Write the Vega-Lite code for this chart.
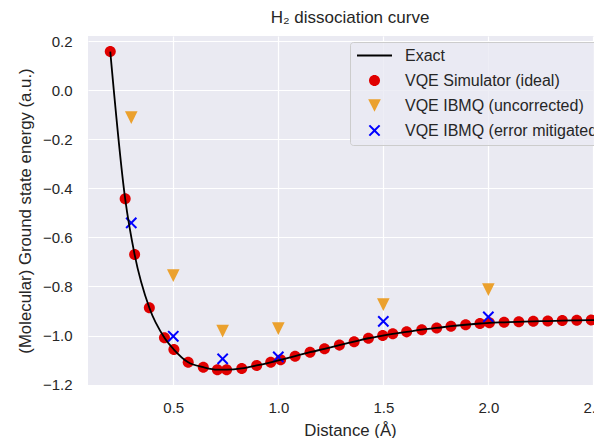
{
  "$schema": "https://vega.github.io/schema/vega-lite/v6.json",
  "width": 506,
  "height": 349,
  "autosize": {"type": "none"},
  "padding": {"left": 88, "top": 36, "right": 0, "bottom": 53},
  "background": "white",
  "title": {"text": "H₂ dissociation curve", "fontSize": 17, "fontWeight": "normal", "font": "Liberation Sans", "color": "#262626", "offset": 7, "dx": 9, "anchor": "middle"},
  "config": {
    "view": {"fill": "#EAEAF2", "stroke": null},
    "font": "Liberation Sans",
    "axis": {"domain": false, "ticks": false, "tickSize": 0, "gridColor": "#ffffff", "gridWidth": 1.2, "gridOpacity": 1, "labelFontSize": 15, "labelColor": "#262626", "labelFont": "Liberation Sans", "titleFont": "Liberation Sans", "titleFontSize": 16.8, "titleFontWeight": "normal", "titleColor": "#262626", "labelPadding": 15}
  },
  "datasets": {
    "pts": [
      {"series": "VQE Simulator (ideal)", "distance": 0.200, "energy": 0.157},
      {"series": "VQE Simulator (ideal)", "distance": 0.271, "energy": -0.443},
      {"series": "VQE Simulator (ideal)", "distance": 0.316, "energy": -0.670},
      {"series": "VQE Simulator (ideal)", "distance": 0.386, "energy": -0.887},
      {"series": "VQE Simulator (ideal)", "distance": 0.458, "energy": -1.009},
      {"series": "VQE Simulator (ideal)", "distance": 0.503, "energy": -1.057},
      {"series": "VQE Simulator (ideal)", "distance": 0.571, "energy": -1.109},
      {"series": "VQE Simulator (ideal)", "distance": 0.643, "energy": -1.129},
      {"series": "VQE Simulator (ideal)", "distance": 0.710, "energy": -1.139},
      {"series": "VQE Simulator (ideal)", "distance": 0.754, "energy": -1.139},
      {"series": "VQE Simulator (ideal)", "distance": 0.826, "energy": -1.134},
      {"series": "VQE Simulator (ideal)", "distance": 0.897, "energy": -1.122},
      {"series": "VQE Simulator (ideal)", "distance": 0.964, "energy": -1.109},
      {"series": "VQE Simulator (ideal)", "distance": 1.011, "energy": -1.099},
      {"series": "VQE Simulator (ideal)", "distance": 1.080, "energy": -1.084},
      {"series": "VQE Simulator (ideal)", "distance": 1.151, "energy": -1.068},
      {"series": "VQE Simulator (ideal)", "distance": 1.220, "energy": -1.054},
      {"series": "VQE Simulator (ideal)", "distance": 1.291, "energy": -1.039},
      {"series": "VQE Simulator (ideal)", "distance": 1.361, "energy": -1.025},
      {"series": "VQE Simulator (ideal)", "distance": 1.429, "energy": -1.011},
      {"series": "VQE Simulator (ideal)", "distance": 1.497, "energy": -1.000},
      {"series": "VQE Simulator (ideal)", "distance": 1.545, "energy": -0.993},
      {"series": "VQE Simulator (ideal)", "distance": 1.611, "energy": -0.985},
      {"series": "VQE Simulator (ideal)", "distance": 1.683, "energy": -0.976},
      {"series": "VQE Simulator (ideal)", "distance": 1.754, "energy": -0.969},
      {"series": "VQE Simulator (ideal)", "distance": 1.822, "energy": -0.962},
      {"series": "VQE Simulator (ideal)", "distance": 1.892, "energy": -0.956},
      {"series": "VQE Simulator (ideal)", "distance": 1.960, "energy": -0.951},
      {"series": "VQE Simulator (ideal)", "distance": 2.005, "energy": -0.948},
      {"series": "VQE Simulator (ideal)", "distance": 2.075, "energy": -0.946},
      {"series": "VQE Simulator (ideal)", "distance": 2.145, "energy": -0.944},
      {"series": "VQE Simulator (ideal)", "distance": 2.214, "energy": -0.942},
      {"series": "VQE Simulator (ideal)", "distance": 2.283, "energy": -0.941},
      {"series": "VQE Simulator (ideal)", "distance": 2.352, "energy": -0.939},
      {"series": "VQE Simulator (ideal)", "distance": 2.421, "energy": -0.938},
      {"series": "VQE Simulator (ideal)", "distance": 2.490, "energy": -0.937},
      {"series": "VQE Simulator (ideal)", "distance": 2.560, "energy": -0.936},
      {"series": "VQE IBMQ (uncorrected)", "distance": 0.3, "energy": -0.112},
      {"series": "VQE IBMQ (uncorrected)", "distance": 0.5, "energy": -0.756},
      {"series": "VQE IBMQ (uncorrected)", "distance": 0.735, "energy": -0.982},
      {"series": "VQE IBMQ (uncorrected)", "distance": 1.0, "energy": -0.972},
      {"series": "VQE IBMQ (uncorrected)", "distance": 1.5, "energy": -0.874},
      {"series": "VQE IBMQ (uncorrected)", "distance": 2.0, "energy": -0.813},
      {"series": "VQE IBMQ (error mitigated)", "distance": 0.3, "energy": -0.541},
      {"series": "VQE IBMQ (error mitigated)", "distance": 0.5, "energy": -1.003},
      {"series": "VQE IBMQ (error mitigated)", "distance": 0.735, "energy": -1.095},
      {"series": "VQE IBMQ (error mitigated)", "distance": 1.0, "energy": -1.087},
      {"series": "VQE IBMQ (error mitigated)", "distance": 1.5, "energy": -0.942},
      {"series": "VQE IBMQ (error mitigated)", "distance": 2.0, "energy": -0.924}
    ],
    "exact": [
      {"distance": 0.200, "energy": 0.157},
      {"distance": 0.271, "energy": -0.443},
      {"distance": 0.316, "energy": -0.670},
      {"distance": 0.386, "energy": -0.887},
      {"distance": 0.458, "energy": -1.009},
      {"distance": 0.503, "energy": -1.057},
      {"distance": 0.571, "energy": -1.109},
      {"distance": 0.643, "energy": -1.129},
      {"distance": 0.710, "energy": -1.139},
      {"distance": 0.754, "energy": -1.139},
      {"distance": 0.826, "energy": -1.134},
      {"distance": 0.897, "energy": -1.122},
      {"distance": 0.964, "energy": -1.109},
      {"distance": 1.011, "energy": -1.099},
      {"distance": 1.080, "energy": -1.084},
      {"distance": 1.151, "energy": -1.068},
      {"distance": 1.220, "energy": -1.054},
      {"distance": 1.291, "energy": -1.039},
      {"distance": 1.361, "energy": -1.025},
      {"distance": 1.429, "energy": -1.011},
      {"distance": 1.497, "energy": -1.000},
      {"distance": 1.545, "energy": -0.993},
      {"distance": 1.611, "energy": -0.985},
      {"distance": 1.683, "energy": -0.976},
      {"distance": 1.754, "energy": -0.969},
      {"distance": 1.822, "energy": -0.962},
      {"distance": 1.892, "energy": -0.956},
      {"distance": 1.960, "energy": -0.951},
      {"distance": 2.005, "energy": -0.948},
      {"distance": 2.075, "energy": -0.946},
      {"distance": 2.145, "energy": -0.944},
      {"distance": 2.214, "energy": -0.942},
      {"distance": 2.283, "energy": -0.941},
      {"distance": 2.352, "energy": -0.939},
      {"distance": 2.421, "energy": -0.938},
      {"distance": 2.490, "energy": -0.937},
      {"distance": 2.560, "energy": -0.936}
    ]
  },
  "layer": [
    {
      "data": {"name": "pts"},
      "mark": {"type": "point", "filled": true, "opacity": 1, "size": 1225, "strokeWidth": 1.8, "clip": true},
      "encoding": {
        "x": {"field": "distance", "type": "quantitative", "scale": {"domain": [0.094, 2.503], "nice": false, "zero": false},
              "axis": {"title": "Distance (Å)", "values": [0.5, 1.0, 1.5, 2.0, 2.5], "format": ".1f", "labelFlush": false, "titleX": 262, "titlePadding": 7}},
        "y": {"field": "energy", "type": "quantitative", "scale": {"domain": [-1.2015, 0.2205], "nice": false, "zero": false},
              "axis": {"title": "(Molecular) Ground state energy (a.u.)", "values": [-1.2, -1.0, -0.8, -0.6, -0.4, -0.2, 0.0, 0.2], "labelExpr": "replace(format(datum.value, '.1f'), '-', '−')", "labelPadding": 16, "titlePadding": 8}},
        "fill": {"field": "series", "type": "nominal",
                 "scale": {"domain": ["Exact", "VQE Simulator (ideal)", "VQE IBMQ (uncorrected)", "VQE IBMQ (error mitigated)"], "range": ["transparent", "#e00000", "#eba12e", "#0000ff"]},
                 "legend": {"title": null, "orient": "none", "legendX": 262, "legendY": 6, "labelFontSize": 16, "labelColor": "#262626", "labelFont": "Liberation Sans", "labelLimit": 400, "labelOffset": 12,
                            "symbolSize": 1225, "symbolStrokeWidth": 1.8, "clipHeight": 15, "rowPadding": 8,
                            "fillColor": "rgba(234,234,242,0.8)", "strokeColor": "#cccccc", "cornerRadius": 3, "padding": 6}},
        "stroke": {"field": "series", "type": "nominal",
                   "scale": {"domain": ["Exact", "VQE Simulator (ideal)", "VQE IBMQ (uncorrected)", "VQE IBMQ (error mitigated)"], "range": ["#000000", "transparent", "transparent", "transparent"]}},
        "shape": {"field": "series", "type": "nominal",
                  "scale": {"domain": ["Exact", "VQE Simulator (ideal)", "VQE IBMQ (uncorrected)", "VQE IBMQ (error mitigated)"],
                            "range": ["stroke", "M-0.315,0A0.315,0.315,0,1,1,0.315,0A0.315,0.315,0,1,1,-0.315,0Z", "M0,0.36L0.36,-0.36L-0.36,-0.36Z", "M-0.253,-0.334L0,-0.081L0.253,-0.334L0.334,-0.253L0.081,0L0.334,0.253L0.253,0.334L0,0.081L-0.253,0.334L-0.334,0.253L-0.081,0L-0.334,-0.253Z"]}}
      }
    },
    {
      "data": {"name": "exact"},
      "mark": {"type": "line", "color": "#000000", "strokeWidth": 1.8, "interpolate": "monotone", "clip": true},
      "encoding": {
        "x": {"field": "distance", "type": "quantitative"},
        "y": {"field": "energy", "type": "quantitative"}
      }
    }
  ]
}
